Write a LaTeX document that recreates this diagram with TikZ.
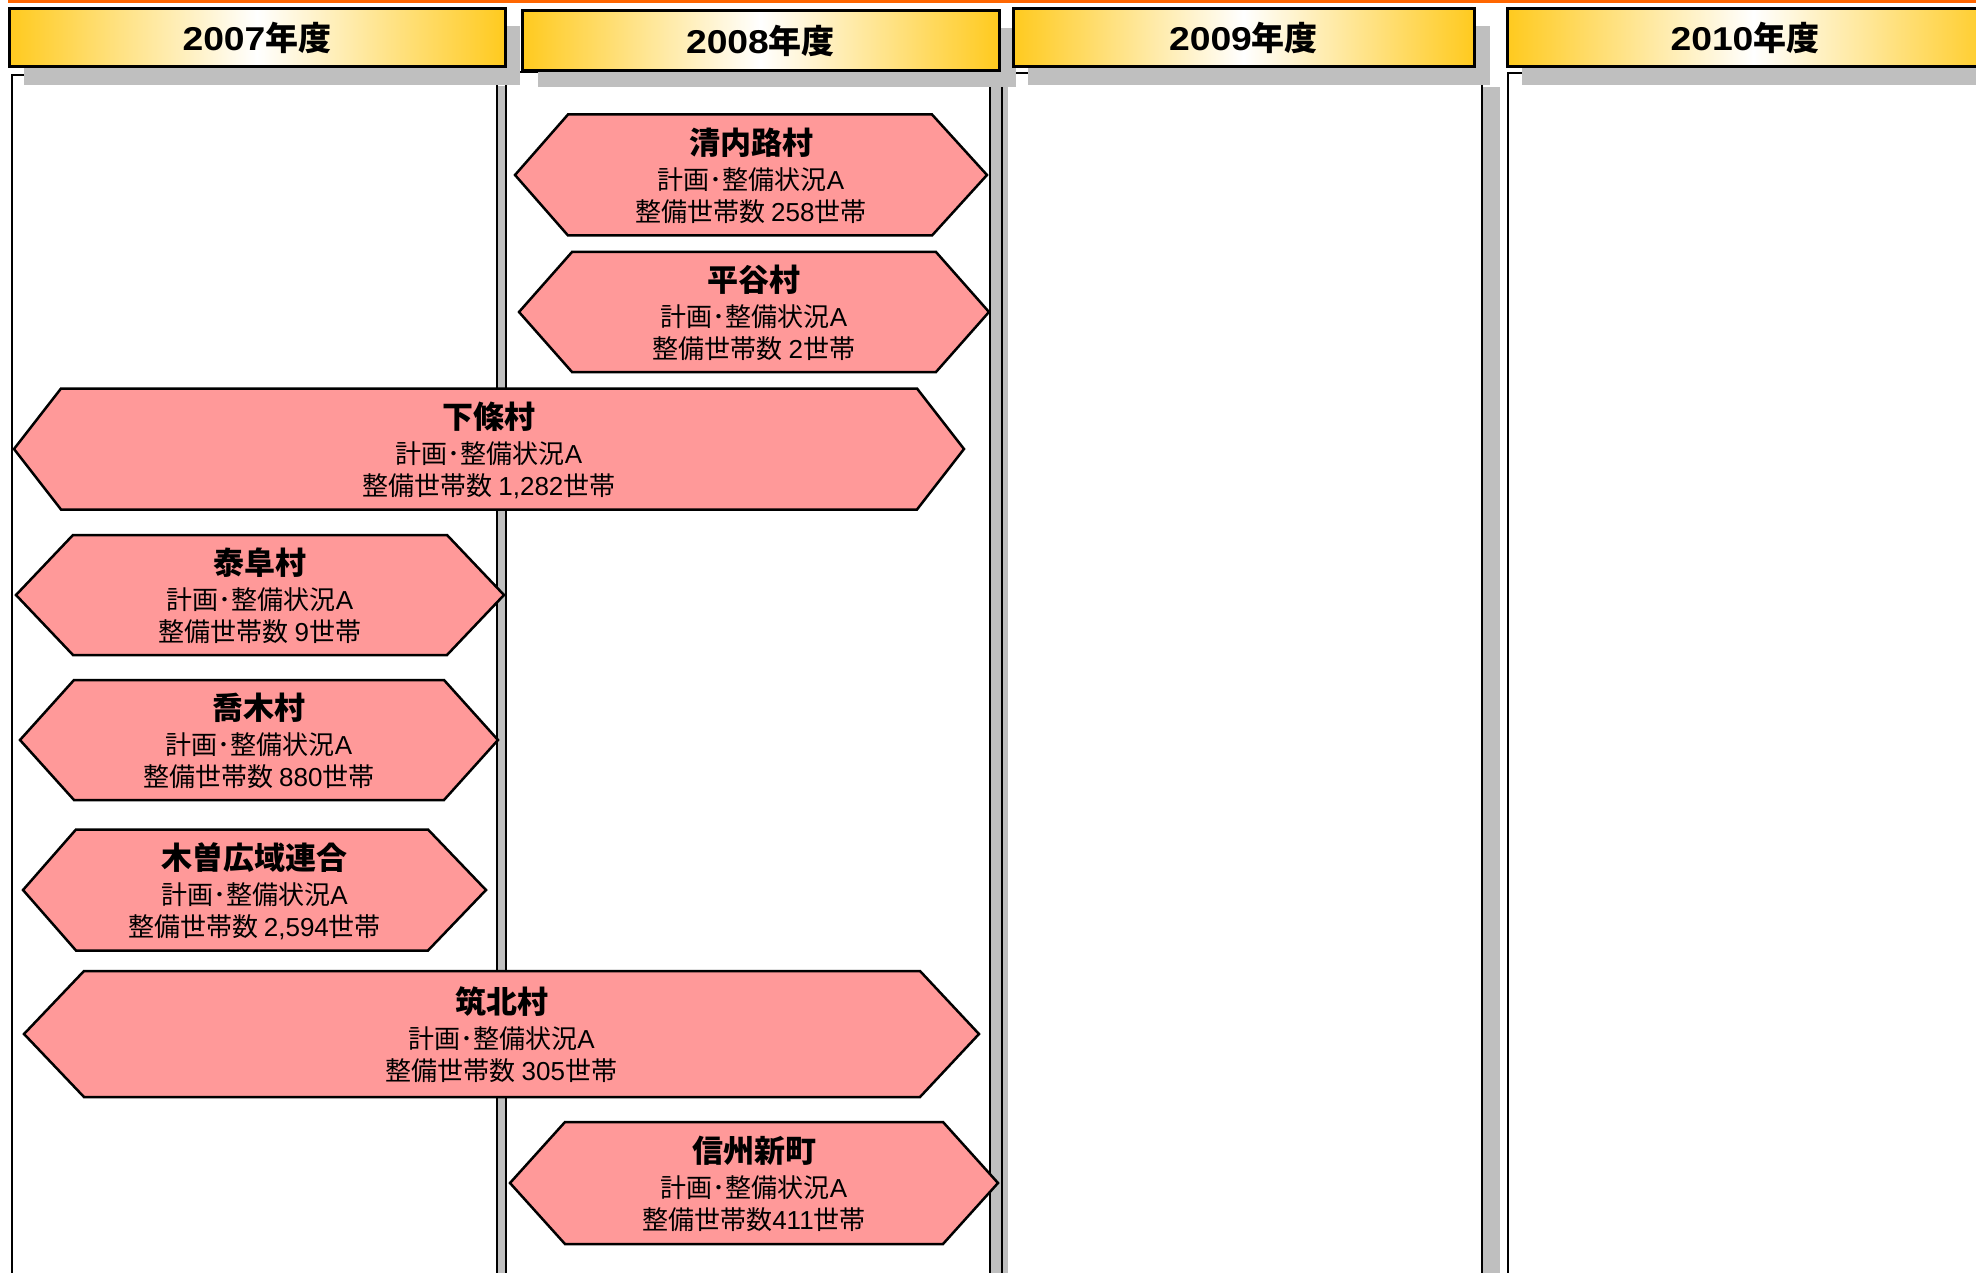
\documentclass[tikz,border=0pt]{standalone}
\usepackage{fontspec}
\setmainfont{Noto Sans CJK JP}
\newfontfamily\lat{Liberation Sans}
\newcommand\hyear[1]{\scalebox{1.13}[1]{\lat #1}}
\definecolor{gold}{RGB}{255,202,30}
\definecolor{hexpink}{RGB}{255,153,153}
\definecolor{shadowgray}{RGB}{191,191,191}
\definecolor{orangeline}{RGB}{255,102,0}
\tikzset{
  hdrtext/.style={inner sep=0pt, font=\fontsize{33pt}{36pt}\selectfont\bfseries},
  hdr/.style={draw=black, line width=3pt, left color=gold, right color=gold, middle color=white, hdrtext},
  colbox/.style={draw=black, line width=2.5pt},
  shd/.style={fill=shadowgray},
  hexshape/.style={draw=black, line width=2.5pt, fill=hexpink, line join=miter},
  hexname/.style={inner sep=0pt, font=\fontsize{31pt}{34pt}\selectfont\bfseries},
  hexline/.style={inner sep=0pt, font=\fontsize{26pt}{30pt}\selectfont},
}
% #1 name, #2 x1, #3 x2, #4 yc, #5 half height, #6 inset left, #7 inset right, #8 title, #9 count
\newcommand\hexbox[9]{%
  \draw[hexshape] (#2,#4) -- (#2+#6,#4-#5) -- (#3-#7,#4-#5) -- (#3,#4)
     -- (#3-#7,#4+#5) -- (#2+#6,#4+#5) -- cycle;
  \node[hexname] (#1) at ({(#2+#3)/2},#4-32) {#8};
  \node[hexline] (#1-a) at ({(#2+#3)/2},#4+5) {計画･整備状況{\lat A}};
  \node[hexline] (#1-b) at ({(#2+#3)/2},#4+37) {#9};
}
\begin{document}
\begin{tikzpicture}[x=1pt,y=-1pt]
\useasboundingbox (0,0) rectangle (1976,1273);
% orange line
\fill[orangeline] (8,0) rectangle (1976,3);
% column shadows (right strips)
\fill[shd] (497,86) rectangle (505,1300);
\fill[shd] (990,86) rectangle (1008,1300);
\fill[shd] (1482,87) rectangle (1500,1300);
% columns
\draw[colbox] (12,75) rectangle (497,1300);
\draw[colbox] (506,72) rectangle (990,1300);
\draw[colbox] (1002,73) rectangle (1482,1300);
\draw[colbox] (1508,73) rectangle (2000,1300);
% header shadows
\fill[shd] (24,26) rectangle (520,85);
\fill[shd] (538,28) rectangle (1016,87);
\fill[shd] (1028,26) rectangle (1490,85);
\fill[shd] (1522,26) rectangle (2010,85);
% headers
\node[hdr, minimum width=496pt, minimum height=58pt] (h2007) at (257,38) {\hyear{2007}年度};
\node[hdr, minimum width=477pt, minimum height=60pt] (h2008) at (760.5,41) {\hyear{2008}年度};
\node[hdr, minimum width=461pt, minimum height=58pt] (h2009) at (1243.5,38) {\hyear{2009}年度};
\path[hdr] (1507,9) rectangle (2000,67);
\node[hdrtext] (h2010) at (1745,38) {\hyear{2010}年度};
% hexagons
\hexbox{seinaiji}{515}{987}{175}{60.5}{53}{55}{清内路村}{整備世帯数 {\lat 258}世帯}
\hexbox{hiraya}{519}{989}{312}{60}{53}{53}{平谷村}{整備世帯数 {\lat 2}世帯}
\hexbox{shimojo}{14}{964}{449}{60.5}{47}{47}{下條村}{整備世帯数 {\lat 1,282}世帯}
\hexbox{yasuoka}{16}{504}{595}{60}{57}{57}{泰阜村}{整備世帯数 {\lat 9}世帯}
\hexbox{takagi}{20}{498}{740}{60}{54}{54}{喬木村}{整備世帯数 {\lat 880}世帯}
\hexbox{kiso}{23}{486}{890}{60.5}{53}{58}{木曽広域連合}{整備世帯数 {\lat 2,594}世帯}
\hexbox{chikuhoku}{24}{979}{1034}{63}{60}{59}{筑北村}{整備世帯数 {\lat 305}世帯}
\hexbox{shinmachi}{510}{998}{1183}{61}{55}{55}{信州新町}{整備世帯数{\lat 411}世帯}
\end{tikzpicture}
\end{document}
